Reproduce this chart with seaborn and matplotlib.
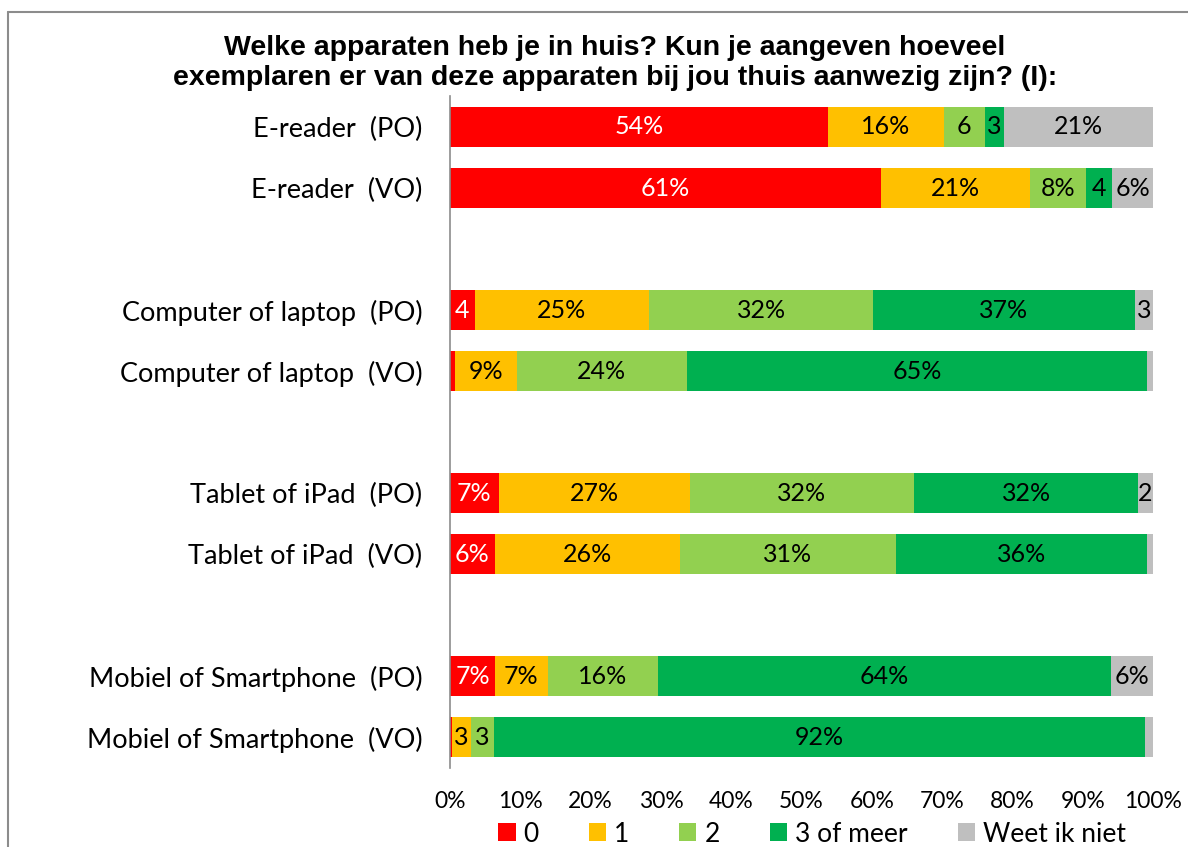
import pandas as pd
import matplotlib
matplotlib.use("Agg")
import matplotlib.pyplot as plt
from matplotlib.patches import Patch
from matplotlib.lines import Line2D
import seaborn as sns

# data (percent of respondents)
rows = ["E-reader  (PO)", "E-reader  (VO)",
        "Computer of laptop  (PO)", "Computer of laptop  (VO)",
        "Tablet of iPad  (PO)", "Tablet of iPad  (VO)",
        "Mobiel of Smartphone  (PO)", "Mobiel of Smartphone  (VO)"]
categories = ["0", "1", "2", "3 of meer", "Weet ik niet"]

nul = [53.7, 61.3, 3.5, 0.7, 6.9, 6.4, 6.4, 0.3]
een = [16.5, 21.2, 24.8, 8.8, 27.2, 26.3, 7.5, 2.7]
twee = [5.9, 8.0, 31.9, 24.2, 31.9, 30.7, 15.7, 3.3]
drie = [2.7, 3.7, 37.2, 65.5, 31.9, 35.7, 64.4, 92.5]
weet = [21.2, 5.8, 2.7, 0.8, 2.1, 0.9, 6.0, 1.2]

# labels as printed in the bars
label_nul = ["54%", "61%", "4", "", "7%", "6%", "7%", ""]
label_een = ["16%", "21%", "25%", "9%", "27%", "26%", "7%", "3"]
label_twee = ["6", "8%", "32%", "24%", "32%", "31%", "16%", "3"]
label_drie = ["3", "4", "37%", "65%", "32%", "36%", "64%", "92%"]
label_weet = ["21%", "6%", "3", "", "2", "", "6%", ""]

kleuren = ["#FF0000", "#FFC000", "#92D050", "#00B050", "#BFBFBF"]

sns.set_style("white")
plt.rcParams["font.family"] = ["Lato", "DejaVu Sans"]
plt.rcParams["text.color"] = "black"
plt.rcParams["xtick.color"] = "black"
plt.rcParams["ytick.color"] = "black"

df = pd.DataFrame({"rij": rows, "0": nul, "1": een, "2": twee,
                   "3 of meer": drie, "Weet ik niet": weet})
cum = df[categories].cumsum(axis=1)
cum["rij"] = rows
lang = cum.melt(id_vars="rij", var_name="cat", value_name="cum")

# empty slots between the device groups
volgorde = [rows[0], rows[1], " ", rows[2], rows[3], "  ",
            rows[4], rows[5], "   ", rows[6], rows[7]]

fig = plt.figure(figsize=(11.88, 8.47), dpi=100)
ax = fig.add_axes([450 / 1188, 1 - 767.5 / 847, 703 / 1188, 671 / 847])

# draw cumulative totals, widest first, so they stack visually
sns.barplot(data=lang, y="rij", x="cum", hue="cat",
            hue_order=categories[::-1],
            palette=dict(zip(categories, kleuren)),
            order=volgorde, dodge=False, width=0.65, saturation=1,
            errorbar=None, linewidth=0, legend=False, ax=ax)

# segment labels
labels = [label_nul, label_een, label_twee, label_drie, label_weet]
pos = {r: volgorde.index(r) for r in rows}
for j, cat in enumerate(categories):
    for i, r in enumerate(rows):
        txt = labels[j][i]
        if not txt:
            continue
        start = cum.loc[i, categories[j - 1]] if j > 0 else 0
        mid = (start + cum.loc[i, cat]) / 2
        ax.text(mid, pos[r], txt, ha="center", va="center", fontsize=18,
                color="white" if j == 0 else "black")

ax.set_xlim(0, 100)
ax.set_ylim(10.5, -0.5)
ax.set_xticks(range(0, 101, 10))
ax.set_xticklabels([f"{v}%" for v in range(0, 101, 10)], fontsize=16.5)
ax.set_yticks(range(len(volgorde)))
ax.set_yticklabels(volgorde, fontsize=19.5)
ax.tick_params(axis="x", length=0, pad=17)
ax.tick_params(axis="y", length=0, pad=20)
ax.set_xlabel("")
ax.set_ylabel("")
for s in ["top", "right", "bottom"]:
    ax.spines[s].set_visible(False)
ax.spines["left"].set_color("#8c8c8c")
ax.spines["left"].set_linewidth(1.2)

fig.text(615 / 1188, 1 - 63 / 847,
         "Welke apparaten heb je in huis? Kun je aangeven hoeveel\n"
         "exemplaren er van deze apparaten bij jou thuis aanwezig zijn? (I):",
         ha="center", va="center", fontsize=20.5, fontweight="bold",
         family=["Liberation Sans", "DejaVu Sans"], linespacing=1.2)

handles = [Patch(facecolor=c, edgecolor="none") for c in kleuren]
fig.legend(handles, categories, loc="center", ncol=5, frameon=False,
           bbox_to_anchor=(812 / 1188, 1 - 834 / 847), fontsize=19,
           handlelength=0.65, handleheight=0.65, handletextpad=0.3,
           columnspacing=1.9, borderpad=0)

# chart border (top and left visible in the reference)
fig.add_artist(Line2D([8 / 1188, 8 / 1188], [0, 1 - 12 / 847], color="#8c8c8c", lw=1.5))
fig.add_artist(Line2D([8 / 1188, 1], [1 - 12 / 847, 1 - 12 / 847], color="#8c8c8c", lw=1.5))

fig.savefig("out.png", dpi=100)
